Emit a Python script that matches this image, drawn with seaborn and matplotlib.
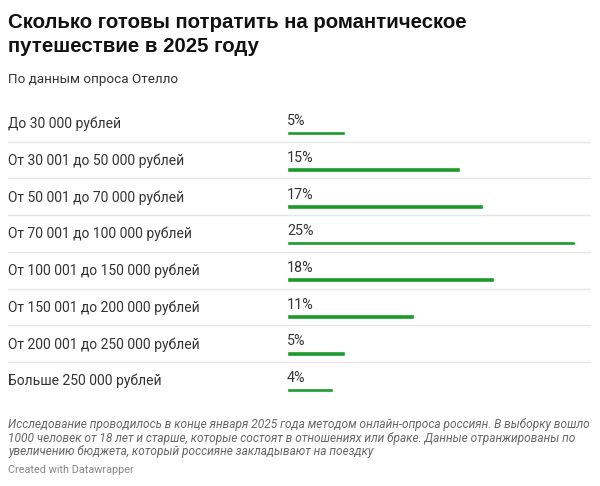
import matplotlib
matplotlib.use("Agg")
import matplotlib.pyplot as plt
import matplotlib.transforms as mtransforms
import seaborn as sns

# Data
categories = [
    "До 30 000 рублей",
    "От 30 001 до 50 000 рублей",
    "От 50 001 до 70 000 рублей",
    "От 70 001 до 100 000 рублей",
    "От 100 001 до 150 000 рублей",
    "От 150 001 до 200 000 рублей",
    "От 200 001 до 250 000 рублей",
    "Больше 250 000 рублей",
]
values = [5, 15, 17, 25, 18, 11, 5, 4]

title_lines = ["Сколько готовы потратить на романтическое", "путешествие в 2025 году"]
subtitle = "По данным опроса Отелло"
note_lines = [
    "Исследование проводилось в конце января 2025 года методом онлайн-опроса россиян. В выборку вошло",
    "1000 человек от 18 лет и старше, которые состоят в отношениях или браке. Данные отранжированы по",
    "увеличению бюджета, который россияне закладывают на поездку",
]
credit = "Created with Datawrapper"

sns.set_style("white")
plt.rcParams['font.family'] = ['Roboto', 'DejaVu Sans']

W, H = 600, 486
fig = plt.figure(figsize=(6, 4.86), dpi=100)
fig.patch.set_facecolor("white")

# axes placed so each row is ~36.7 px tall
row_px = 36.7
top_px = 105
ax = fig.add_axes([287 / W, 1 - (top_px + 8 * row_px) / H, 288 / W, 8 * row_px / H])

green = "#1b9a2b"
sns.barplot(x=values, y=categories, orient="h", color=green, width=0.13,
            saturation=1, ax=ax)
ax.set_xlim(0, 25)
ax.set_ylim(8 - 0.763, -0.763)
ax.set_axis_off()

blend = mtransforms.blended_transform_factory(fig.transFigure, ax.transData)

for i, (cat, v) in enumerate(zip(categories, values)):
    ax.text(8 / W, i - 0.128, cat, transform=blend, ha="left", va="baseline",
            fontsize=10, color="#333333")
    ax.text(0, i - 0.21, f"{v}%", ha="left", va="baseline",
            fontsize=10.3, color="#333333")
    if i < len(categories) - 1:
        ax.plot([8 / W, 590 / W], [i + 0.237, i + 0.237], transform=blend,
                color="#e6e6e6", lw=1, clip_on=False)

# titles
for k, line in enumerate(title_lines):
    fig.text(8 / W, 1 - (28.5 + 23 * k) / H, line, fontsize=14.7,
             fontweight="bold", family=["Liberation Sans", "DejaVu Sans"],
             color="#111111", va="baseline")
fig.text(8 / W, 1 - 82.5 / H, subtitle, fontsize=9.7, color="#333333", va="baseline")

# notes
for k, line in enumerate(note_lines):
    fig.text(8 / W, 1 - (428.3 + 13.3 * k) / H, line, fontsize=8.6, style="italic",
             color="#666666", va="baseline")
fig.text(8 / W, 1 - 472.7 / H, credit, fontsize=7.8, color="#888888", va="baseline")

fig.savefig("out.png", dpi=100, facecolor="white")
